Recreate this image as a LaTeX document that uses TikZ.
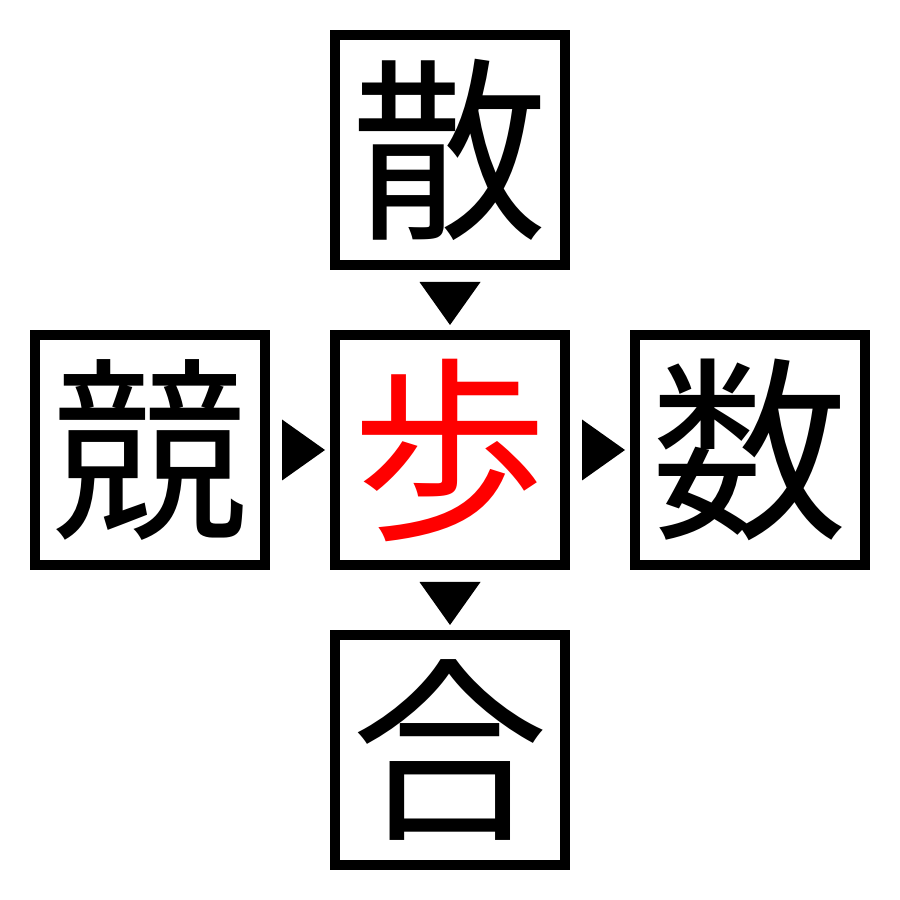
\documentclass[tikz,border=0pt]{standalone}
\usepackage{fontspec}
\newfontfamily\cjk{Noto Sans CJK JP}
\usetikzlibrary{positioning}
\usetikzlibrary{calc}

\begin{document}
\begin{tikzpicture} [
		cell/.style={rectangle,draw=black,fill=white,line width=1mm,minimum size=2.3cm,inner sep=0pt,font=\cjk\fontsize{56}{60}\selectfont},
		marker/.style={fill=black},
		node distance = 0.6cm]
		
		\useasboundingbox (0,0) rectangle (9,9);
		
		% node positions
		\node[cell, text=red] (center) at (4.5,4.5) {歩};
		\node[cell, above = of center] (top) {散};
		\node[cell, below = of center] (bottom) {合};
		\node[cell, left = of center] (left) {競};
		\node[cell, right = of center] (right) {数};
		
		% markers
		\coordinate (m1) at ($(top.south)!0.5!(center.north)$);
		\coordinate (m2) at ($(center.south)!0.5!(bottom.north)$);
		\coordinate (m3) at ($(left.east)!0.5!(center.west)$);
		\coordinate (m4) at ($(center.east)!0.5!(right.west)$);
		\foreach \name in {1,2}
		\fill[marker] (m\name) ++(-0.305,0.18) -- ++(0.61,0) -- ++(-0.305,-0.43) -- cycle;
		\foreach \name in {3,4}
		\fill[marker] (m\name) ++(-0.18,0.305) -- ++(0,-0.61) -- ++(0.43,0.305) -- cycle;
		
	\end{tikzpicture}
\end{document}
